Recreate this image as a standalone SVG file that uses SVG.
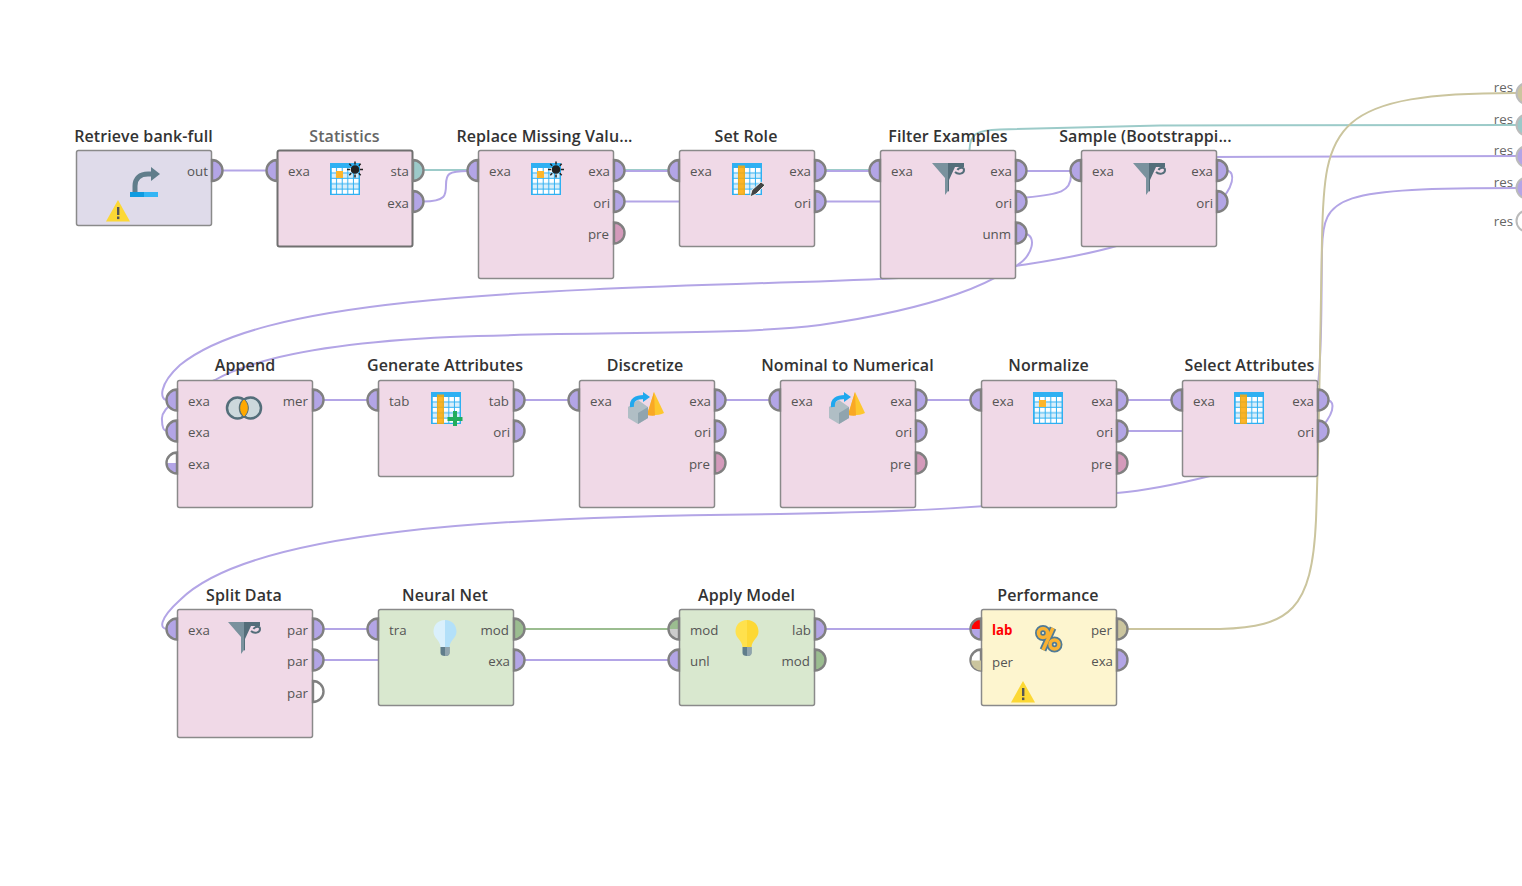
<svg xmlns="http://www.w3.org/2000/svg" width="1522" height="886" viewBox="0 0 1522 886">
<style>
text{font-family:"Open Sans","Liberation Sans",sans-serif}
.t{font-size:16px;font-weight:600;fill:#333;text-anchor:middle;letter-spacing:.1px}
.l{font-size:13.3px;fill:#555}
.r{text-anchor:end}
.res{fill:#666;font-size:13.3px;text-anchor:end}
.n{stroke:#8a8a8a;stroke-width:1.5}
.pink{fill:#f0d9e7}.gray{fill:#dfdbea}.green{fill:#d9e8cf}.yellow{fill:#fdf5cf}
.c{fill:none;stroke-width:2}
.pu{stroke:#b3a5e6}.te{stroke:#9ccbc9}.ta{stroke:#cbc59e}.gr{stroke:#9bbd90}
.po{stroke:#808080;stroke-width:2.400}
.fp{fill:#b3a5e6}.fe{fill:#fff}.fk{fill:#d49abb}.fg{fill:#9bbd90}.ft{fill:#cbc59e}.fa{fill:#9cc9c9}
</style>
<defs>
<path id="o" d="M0-10.5A10.5 10.5 0 0 1 0 10.5Z"/>
<path id="i" d="M0-10.5A10.5 10.5 0 0 0 0 10.5Z"/>
<pattern id="cells" patternUnits="userSpaceOnUse" x="1.5" y="5" width="5.6" height="10.8">
<rect width="5.6" height="10.8" fill="#2fb0f2"/>
<rect width="4.6" height="4.4" fill="#fff"/>
<rect y="5.4" width="4.6" height="4.4" fill="#d8eefa"/>
</pattern>
<g id="grid"><rect width="30" height="32" fill="#2fb0f2"/><rect x="1.5" y="5" width="27.500" height="26" fill="url(#cells)"/></g>
<g id="cell"><rect x="6" y="8" width="7" height="7" fill="#fdb52a"/></g>
<g id="col"><rect x="6" y="2.500" width="7" height="29.500" fill="#ffa800" opacity=".85"/></g>
<g id="sun" stroke="#222" stroke-width="1.500"><circle r="3.600" fill="#222"/><path d="M0-8V-5M0 5V8M-8 0H-5M5 0H8M-5.700-5.700L-3.800-3.800M3.800 3.800L5.700 5.700M-5.700 5.700L-3.800 3.800M3.800-3.800L5.700-5.700"/></g>
<g id="warn"><path d="M12 0L24 21.500H0Z" fill="#fcd835"/><rect x="11" y="7" width="2.400" height="8" fill="#555"/><rect x="11" y="16.500" width="2.400" height="2.600" fill="#555"/></g>
<g id="funnel"><path d="M0 0H16V28L13 32V15Z" fill="#7a929e"/><path d="M16 0H32V4H23L17 17V28L16 28.700Z" fill="#546e7a"/><path d="M23 9C26 12 32 11 32 7C32 4 27 4 25.500 7" fill="none" stroke="#546e7a" stroke-width="2"/></g>
<g id="cone"><path d="M26-11L36 10Q30 13 19 12Z" fill="#fdc72e"/><path d="M26-11L19 12Q24 13 27 12.500Z" fill="#f9a825"/><path d="M0 4L10-3L20 4V15L10 21L0 15Z" fill="#b0bec5"/><path d="M10 10L20 4V15L10 21Z" fill="#90a4ae"/><path d="M4 4C3-3 8-6 16-6" fill="none" stroke="#1fa8ee" stroke-width="4"/><path d="M15-11L22-6L15-1Z" fill="#1fa8ee"/></g>
<g id="bulbbase"><path d="M-4.500 25H4.500V31Q4.500 34 0 34Q-4.500 34-4.500 31Z" fill="#607d8b"/><path d="M0 25H4.500V31Q4.500 34 0 34Z" fill="#90a4ae"/></g>
</defs>

<g id="connectors">
<path class="c te" d="M423 170H930C962 170 969 160 969.500 150C970 135 975 130 1000 129.500L1160 125.500L1522 125"/>
<path class="c pu" d="M222 170.500H267"/>
<path class="c pu" d="M423 201.500C446 201.500 446 195 446 185C446 174 448 171 468 171"/>
<path class="c pu" d="M624 171H669M624 201.500H690M825 171H870M825 201.500H890M1026 171H1071"/>
<path class="c pu" d="M1026 197.500C1060 194 1071 192 1071 175"/>
<path class="c pu" d="M1026 234C1036 236 1034 255 1016 266C1000 275 960 305 820 325C730 336 600 331 450 337C340 342 260 355 215 380C190 392 160 405 162 420C162 428 164 431 167 431"/>
<path class="c pu" d="M1120 245C1080 257 1040 262 1016 266C960 275 900 279 800 282C500 291 260 300 180 365C158 385 160 400 167 400"/>
<path class="c pu" d="M1227 170.500C1236 172 1234 188 1217 204"/>
<path class="c pu" d="M1210 157L1522 156"/>
<path class="c pu" d="M323 400H368M524 400H569M725 400H770M926 400H971M1127 400H1172M1127 431H1190"/>
<path class="c pu" d="M1328 400C1336 402 1334 415 1318 431"/>
<path class="c pu" d="M1210 476C1170 486 1140 491 1117 493C1000 508 900 512 780 514C500 516 250 530 180 600C158 620 160 629 167 629"/>
<path class="c pu" d="M1318 385C1322 350 1321 320 1322 250C1323 195 1335 188 1522 188"/>
<path class="c ta" d="M1127 629H1220C1290 627 1312 610 1316 520C1319 440 1320 350 1322 240C1324 125 1332 92 1522 93"/>
<path class="c pu" d="M323 629H368M323 660H390M524 660H669M825 629H971"/>
<path class="c gr" d="M524 629H669"/>
</g>

<g id="n-retrieve"><rect class="n gray" x="76.500" y="150.500" width="135" height="75" rx="2"/>
<text class="t" x="143.500" y="142">Retrieve bank-full</text>
<path d="M135 192V186C135 178 140 174 148 174H152" fill="none" stroke="#607d8b" stroke-width="5"/><path d="M151 167L160 174L151 181Z" fill="#607d8b"/>
<rect x="130" y="192" width="14" height="5" fill="#0f9be0"/><rect x="144" y="192" width="14" height="5" fill="#33b5f5"/>
<use href="#warn" x="106" y="200"/>
<text class="l r" x="208" y="176">out</text><use href="#o" x="212" y="170.500" class="po fp"/></g>

<g id="n-statistics"><rect x="277.500" y="150.500" width="135" height="96" rx="2" class="pink" stroke="#707070" stroke-width="2"/>
<text class="t" x="344.500" y="142" style="fill:#666">Statistics</text>
<use href="#grid" x="330" y="163"/><use href="#cell" x="330" y="163"/><use href="#sun" x="355" y="169.500"/>
<text class="l" x="288" y="176">exa</text><text class="l r" x="409" y="176">sta</text><text class="l r" x="409" y="208">exa</text>
<use href="#i" x="277" y="170.500" class="po fp"/><use href="#o" x="413" y="170.500" class="po fa"/><use href="#o" x="413" y="201.500" class="po fp"/></g>

<g id="n-replace"><rect class="n pink" x="478.500" y="150.500" width="135" height="128" rx="2"/>
<text class="t" x="544.500" y="142">Replace Missing Valu...</text>
<use href="#grid" x="531" y="163"/><use href="#cell" x="531" y="163"/><use href="#sun" x="556" y="169.500"/>
<text class="l" x="489" y="176">exa</text><text class="l r" x="610" y="176">exa</text><text class="l r" x="610" y="208">ori</text><text class="l r" x="609" y="239">pre</text>
<use href="#i" x="478" y="170.500" class="po fp"/><use href="#o" x="614" y="170.500" class="po fp"/><use href="#o" x="614" y="201.500" class="po fp"/><use href="#o" x="614" y="233" class="po fk"/></g>

<g id="n-setrole"><rect class="n pink" x="679.500" y="150.500" width="135" height="96" rx="2"/>
<text class="t" x="746" y="142">Set Role</text>
<use href="#grid" x="732" y="163"/><use href="#col" x="732" y="163"/>
<path d="M750 197L752 190L761 182L765 185L756 194Z" fill="#444" stroke="#fff" stroke-width=".8"/>
<text class="l" x="690" y="176">exa</text><text class="l r" x="811" y="176">exa</text><text class="l r" x="811" y="208">ori</text>
<use href="#i" x="679" y="170.500" class="po fp"/><use href="#o" x="815" y="170.500" class="po fp"/><use href="#o" x="815" y="201.500" class="po fp"/></g>

<g id="n-filter"><rect class="n pink" x="880.500" y="150.500" width="135" height="128" rx="2"/>
<use href="#funnel" x="932" y="163"/>
<text class="l" x="891" y="176">exa</text><text class="l r" x="1012" y="176">exa</text><text class="l r" x="1012" y="208">ori</text><text class="l r" x="1011" y="239">unm</text>
<use href="#i" x="880" y="170.500" class="po fp"/><use href="#o" x="1016" y="170.500" class="po fp"/><use href="#o" x="1016" y="201.500" class="po fp"/><use href="#o" x="1016" y="233" class="po fp"/>
<text class="t" x="948" y="142">Filter Examples</text></g>

<g id="n-sample"><rect class="n pink" x="1081.500" y="150.500" width="135" height="96" rx="2"/>
<text class="t" x="1145.500" y="142">Sample (Bootstrappi...</text>
<use href="#funnel" x="1133" y="163"/>
<text class="l" x="1092" y="176">exa</text><text class="l r" x="1213" y="176">exa</text><text class="l r" x="1213" y="208">ori</text>
<use href="#i" x="1081" y="170.500" class="po fp"/><use href="#o" x="1217" y="170.500" class="po fp"/><use href="#o" x="1217" y="201.500" class="po fp"/></g>

<g id="n-append"><rect class="n pink" x="177.500" y="380.500" width="135" height="127" rx="2"/>
<text class="t" x="245" y="371">Append</text>
<circle cx="237.500" cy="408" r="10.500" fill="#ccd8dc" stroke="#546e7a" stroke-width="2.500"/><circle cx="250.500" cy="408" r="10.500" fill="#ccd8dc" stroke="#546e7a" stroke-width="2.500"/>
<path d="M244 399A11.500 11.500 0 0 1 244 417A11.500 11.500 0 0 1 244 399Z" fill="#ffa800" stroke="#546e7a" stroke-width="1"/>
<text class="l" x="188" y="406">exa</text><text class="l" x="188" y="437">exa</text><text class="l" x="188" y="469">exa</text><text class="l r" x="308" y="406">mer</text>
<use href="#i" x="177" y="400" class="po fp"/><use href="#i" x="177" y="431" class="po fp"/>
<path d="M177 463H166.500A10.500 10.500 0 0 0 177 473.500Z" class="fp"/><use href="#i" x="177" y="463" class="po" fill="none"/>
<use href="#o" x="313" y="400" class="po fp"/></g>

<g id="n-generate"><rect class="n pink" x="378.500" y="380.500" width="135" height="96" rx="2"/>
<text class="t" x="445" y="371">Generate Attributes</text>
<use href="#grid" x="431" y="392"/><use href="#col" x="431" y="392"/>
<path d="M455 411V426M447.500 419H462.500" stroke="#22ad5c" stroke-width="4" fill="none"/>
<text class="l" x="389" y="406">tab</text><text class="l r" x="509" y="406">tab</text><text class="l r" x="510" y="437">ori</text>
<use href="#i" x="378" y="400" class="po fp"/><use href="#o" x="514" y="400" class="po fp"/><use href="#o" x="514" y="431" class="po fp"/></g>

<g id="n-discretize"><rect class="n pink" x="579.500" y="380.500" width="135" height="127" rx="2"/>
<text class="t" x="645" y="371">Discretize</text>
<use href="#cone" x="628" y="403"/>
<text class="l" x="590" y="406">exa</text><text class="l r" x="711" y="406">exa</text><text class="l r" x="711" y="437">ori</text><text class="l r" x="710" y="469">pre</text>
<use href="#i" x="579" y="400" class="po fp"/><use href="#o" x="715" y="400" class="po fp"/><use href="#o" x="715" y="431" class="po fp"/><use href="#o" x="715" y="463" class="po fk"/></g>

<g id="n-nominal"><rect class="n pink" x="780.500" y="380.500" width="135" height="127" rx="2"/>
<text class="t" x="847.500" y="371">Nominal to Numerical</text>
<use href="#cone" x="829" y="403"/>
<text class="l" x="791" y="406">exa</text><text class="l r" x="912" y="406">exa</text><text class="l r" x="912" y="437">ori</text><text class="l r" x="911" y="469">pre</text>
<use href="#i" x="780" y="400" class="po fp"/><use href="#o" x="916" y="400" class="po fp"/><use href="#o" x="916" y="431" class="po fp"/><use href="#o" x="916" y="463" class="po fk"/></g>

<g id="n-normalize"><rect class="n pink" x="981.500" y="380.500" width="135" height="127" rx="2"/>
<text class="t" x="1048.500" y="371">Normalize</text>
<use href="#grid" x="1033" y="392"/><use href="#cell" x="1033" y="392"/>
<text class="l" x="992" y="406">exa</text><text class="l r" x="1113" y="406">exa</text><text class="l r" x="1113" y="437">ori</text><text class="l r" x="1112" y="469">pre</text>
<use href="#i" x="981" y="400" class="po fp"/><use href="#o" x="1117" y="400" class="po fp"/><use href="#o" x="1117" y="431" class="po fp"/><use href="#o" x="1117" y="463" class="po fk"/></g>

<g id="n-select"><rect class="n pink" x="1182.500" y="380.500" width="135" height="96" rx="2"/>
<text class="t" x="1249.500" y="371">Select Attributes</text>
<use href="#grid" x="1234" y="392"/><use href="#col" x="1234" y="392"/>
<text class="l" x="1193" y="406">exa</text><text class="l r" x="1314" y="406">exa</text><text class="l r" x="1314" y="437">ori</text>
<use href="#i" x="1182" y="400" class="po fp"/><use href="#o" x="1318" y="400" class="po fp"/><use href="#o" x="1318" y="431" class="po fp"/></g>

<g id="n-split"><rect class="n pink" x="177.500" y="609.500" width="135" height="128" rx="2"/>
<text class="t" x="244" y="601">Split Data</text>
<use href="#funnel" x="228" y="622"/>
<text class="l" x="188" y="635">exa</text><text class="l r" x="308" y="635">par</text><text class="l r" x="308" y="666">par</text><text class="l r" x="308" y="698">par</text>
<use href="#i" x="177" y="629" class="po fp"/><use href="#o" x="313" y="629" class="po fp"/><use href="#o" x="313" y="660" class="po fp"/><use href="#o" x="313" y="691.500" class="po fe"/></g>

<g id="n-neural"><rect class="n green" x="378.500" y="609.500" width="135" height="96" rx="2"/>
<text class="t" x="445" y="601">Neural Net</text>
<g transform="translate(445 622)"><path d="M0-2C-7-2-11.500 3-11.500 9.500C-11.500 16-5 18-4.500 25H0Z" fill="#daf0fc"/><path d="M0-2C7-2 11.500 3 11.500 9.500C11.500 16 5 18 4.500 25H0Z" fill="#b3e0f9"/><use href="#bulbbase"/></g>
<text class="l" x="389" y="635">tra</text><text class="l r" x="509" y="635">mod</text><text class="l r" x="510" y="666">exa</text>
<use href="#i" x="378" y="629" class="po fp"/><use href="#o" x="514" y="629" class="po fg"/><use href="#o" x="514" y="660" class="po fp"/></g>

<g id="n-apply"><rect class="n green" x="679.500" y="609.500" width="135" height="96" rx="2"/>
<text class="t" x="746.500" y="601">Apply Model</text>
<g transform="translate(747 622)"><path d="M0-2C-7-2-11.500 3-11.500 9.500C-11.500 16-5 18-4.500 25H0Z" fill="#ffe14d"/><path d="M0-2C7-2 11.500 3 11.500 9.500C11.500 16 5 18 4.500 25H0Z" fill="#fdd835"/><use href="#bulbbase"/></g>
<text class="l" x="690" y="635">mod</text><text class="l" x="690" y="666">unl</text><text class="l r" x="811" y="635">lab</text><text class="l r" x="810" y="666">mod</text>
<path d="M679 629H668.500A10.500 10.500 0 0 1 679 618.500Z" class="fg"/><path d="M679 629H668.500A10.500 10.500 0 0 0 679 639.500Z" fill="#ccc"/><use href="#i" x="679" y="629" class="po" fill="none"/>
<use href="#i" x="679" y="660" class="po fp"/><use href="#o" x="815" y="629" class="po fp"/><use href="#o" x="815" y="660" class="po fg"/></g>

<g id="n-performance"><rect class="n yellow" x="981.500" y="609.500" width="135" height="96" rx="2"/>
<text class="t" x="1048" y="601">Performance</text>
<g fill="none"><path d="M1053 628L1043 650" stroke="#4f7a96" stroke-width="7"/><circle cx="1043" cy="633" r="4.500" stroke="#4f7a96" stroke-width="7"/><circle cx="1054.500" cy="644.500" r="4.500" stroke="#4f7a96" stroke-width="7"/><path d="M1053 628L1043 650" stroke="#f9b233" stroke-width="3.500"/><circle cx="1043" cy="633" r="4.500" stroke="#f9b233" stroke-width="3.500"/><circle cx="1054.500" cy="644.500" r="4.500" stroke="#f9b233" stroke-width="3.500"/></g>
<use href="#warn" x="1011" y="681"/>
<text x="992" y="635" style="font-size:13.3px;font-weight:700;fill:#f00">lab</text><text class="l" x="992" y="667">per</text><text class="l r" x="1112" y="635">per</text><text class="l r" x="1113" y="666">exa</text>
<path d="M981 629H970.500A10.500 10.500 0 0 1 981 618.500Z" fill="#f00"/><path d="M981 629H970.500A10.500 10.500 0 0 0 981 639.500Z" class="fp"/><use href="#i" x="981" y="629" class="po" fill="none"/>
<use href="#i" x="981" y="660" class="po fe"/><path d="M981 660.500H971A10 10 0 0 0 981 670.500Z" class="ft"/>
<use href="#o" x="1117" y="629" class="po ft"/><use href="#o" x="1117" y="660" class="po fp"/></g>

<g id="n-results">
<text class="res" x="1513" y="92">res</text><text class="res" x="1513" y="124">res</text><text class="res" x="1513" y="155">res</text><text class="res" x="1513" y="187">res</text><text class="res" x="1513" y="226">res</text>
<g stroke="#bbb" stroke-width="2"><circle cx="1527" cy="93.500" r="10.500" class="ft"/><circle cx="1527" cy="125" r="10.500" class="fa"/><circle cx="1527" cy="156.500" r="10.500" class="fp"/><circle cx="1527" cy="188" r="10.500" class="fp"/><circle cx="1527" cy="221" r="10.500" class="fe"/></g>
</g>
</svg>
